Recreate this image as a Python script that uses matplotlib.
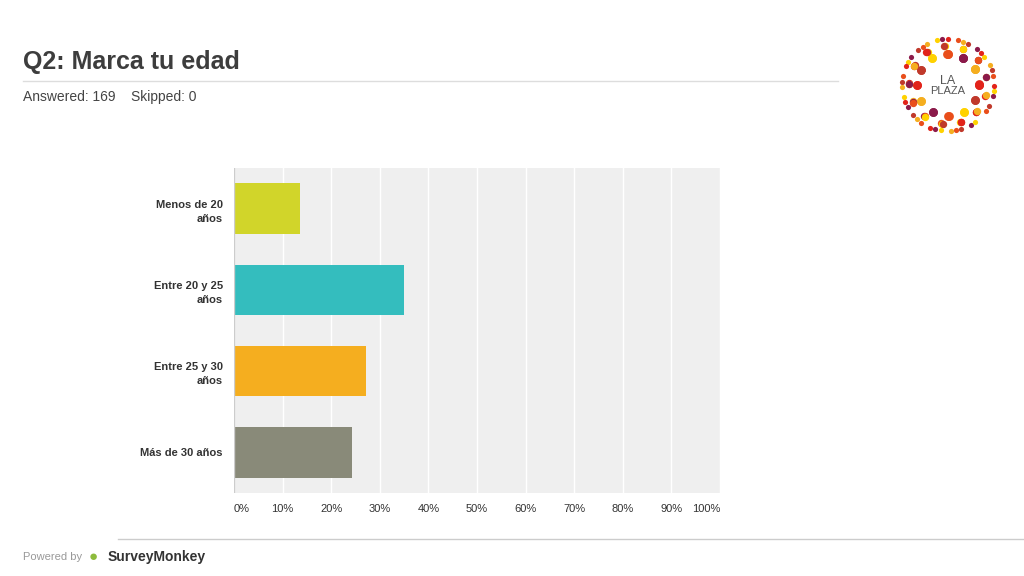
import matplotlib
matplotlib.use("Agg")
import matplotlib.pyplot as plt
import numpy as np

categories = ["Menos de 20\naños", "Entre 20 y 25\naños", "Entre 25 y 30\naños", "Más de 30 años"]
values = [13.6, 34.9, 27.2, 24.3]
colors = ["#d1d52a", "#34bdbe", "#f5ae1f", "#898a79"]
ticks = [0, 10, 20, 30, 40, 50, 60, 70, 80, 90, 100]

plt.rcParams['font.family'] = ['Liberation Sans', 'DejaVu Sans']
fig = plt.figure(figsize=(10.24, 5.76), dpi=100)
fig.patch.set_facecolor("white")

ax = fig.add_axes([234/1024, 1-493/576, 486/1024, 325/576])
ax.set_facecolor("#efefef")
y = np.arange(len(categories))
ax.barh(y, values, color=colors, height=0.62, zorder=3)
ax.set_xlim(0, 100)
ax.set_ylim(len(categories)-0.5, -0.5)
ax.set_xticks(ticks)
labs = ax.set_xticklabels([f"{t}%" for t in ticks], fontsize=8, color="#333333")
labs[0].set_ha("left")
labs[-1].set_ha("right")
ax.set_yticks(y)
for t in ax.set_yticklabels(categories, fontsize=8, fontweight="bold", color="#333333", ha="right"):
    t.set_linespacing(1.5)
ax.grid(axis="x", color="white", linewidth=1, zorder=1)
for s in ax.spines.values():
    s.set_visible(False)
ax.tick_params(length=0, pad=8)
ax.axvline(0, color="#cccccc", lw=1, zorder=4)

fig.text(23/1024, 1-62/576, "Q2: Marca tu edad", fontsize=18, fontweight="bold", color="#3d3d3d", va="center")
fig.add_artist(plt.Line2D([23/1024, 838/1024], [1-81/576, 1-81/576], color="#dddddd", lw=1))
fig.text(23/1024, 1-97/576, "Answered: 169    Skipped: 0", fontsize=10, color="#444444", va="center")
fig.add_artist(plt.Line2D([118/1024, 1], [1-539/576, 1-539/576], color="#cccccc", lw=1))
fig.text(23/1024, 1-557/576, "Powered by", fontsize=8, color="#999999", va="center")
fig.text(108/1024, 1-557/576, "SurveyMonkey", fontsize=10, fontweight="bold", color="#333333", va="center")
fig.text(89/1024, 1-557/576, "●", fontsize=11, color="#8dbb3c", va="center")

# logo
lax = fig.add_axes([893/1024, 1-140/576, 110/1024, 110/576])
lax.set_xlim(-1.1, 1.1); lax.set_ylim(-1.1, 1.1); lax.set_aspect("equal"); lax.axis("off")
pal = ["#e2231a", "#f5ae1f", "#8b1a4a", "#e94e1b", "#ffd200", "#c0392b"]
k = 0
for r, n, s in [(0.62, 28, 40), (0.78, 34, 28), (0.92, 40, 14)]:
    for a in np.linspace(0, 2*np.pi, n, endpoint=False):
        lax.scatter(r*np.cos(a+k*0.3), r*np.sin(a+k*0.3), s=s, color=pal[k % 6], lw=0)
        k += 1
lax.add_patch(plt.Circle((0, 0), 0.5, color="white"))
lax.text(0, 0.08, "LA", ha="center", va="center", fontsize=9, color="#555555")
lax.text(0, -0.12, "PLAZA", ha="center", va="center", fontsize=8, color="#555555")

fig.savefig("out.png", dpi=100)
